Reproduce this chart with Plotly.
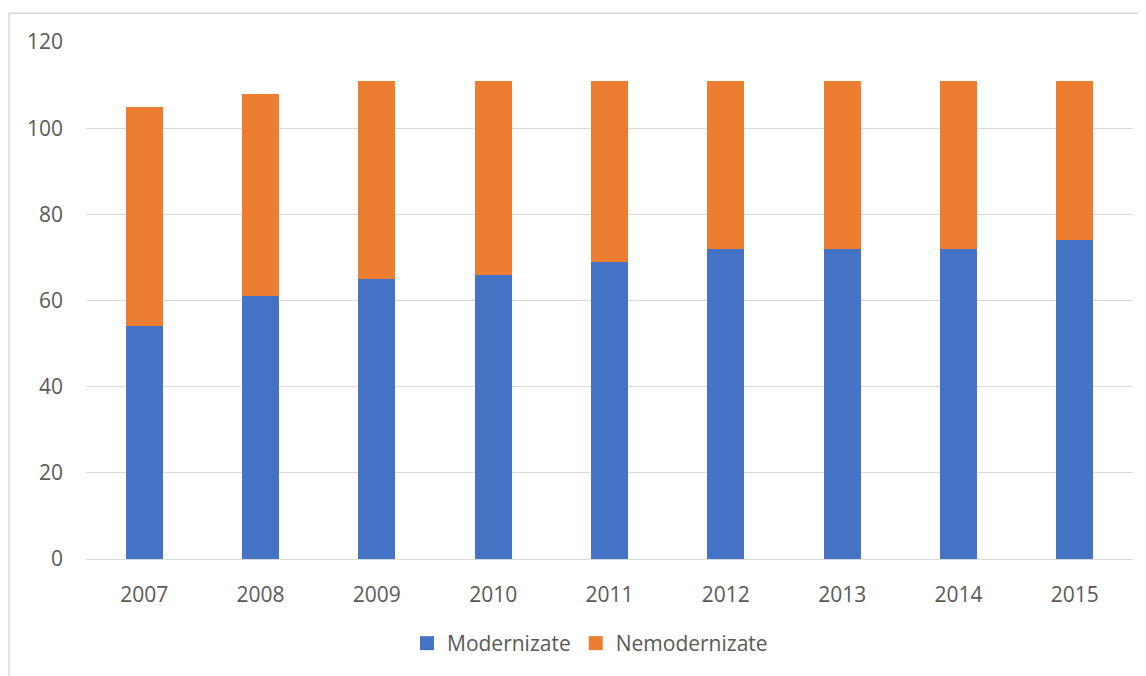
import plotly.graph_objects as go

years = ["2007", "2008", "2009", "2010", "2011", "2012", "2013", "2014", "2015"]
modernizate = [54, 61, 65, 66, 69, 72, 72, 72, 74]
nemodernizate = [51, 47, 46, 45, 42, 39, 39, 39, 37]
y_ticks = [0, 20, 40, 60, 80, 100, 120]
series_names = ["Modernizate", "Nemodernizate"]

BLUE = "#4472C4"
ORANGE = "#ED7D31"
GRID = "#d9d9d9"
TEXT = "#595959"
FONT = "Open Sans"
FS = 21

fig = go.Figure()
fig.add_trace(go.Bar(x=years, y=modernizate, name=series_names[0],
                     marker=dict(color=BLUE, line=dict(width=0)),
                     showlegend=False))
fig.add_trace(go.Bar(x=years, y=nemodernizate, name=series_names[1],
                     marker=dict(color=ORANGE, line=dict(width=0)),
                     showlegend=False))
# legend entries with larger square swatches (as in the reference)
for nm, col in zip(series_names, [BLUE, ORANGE]):
    fig.add_trace(go.Scatter(x=[None], y=[None], mode="markers", name=nm,
                             marker=dict(symbol="square", size=14, color=col)))

# page body has an 8px margin, so the figure starts at (8, 8)
OFF = 8
W, H = 1146 - OFF, 676 - OFF
L, R, T, B = 86 - OFF, 13, 42 - OFF, 114
pw = W - L - R
ph = H - T - B

fig.update_layout(
    width=W, height=H,
    barmode="stack",
    bargap=0.682,
    paper_bgcolor="white",
    plot_bgcolor="white",
    margin=dict(l=L, r=R, t=T, b=B, pad=0),
    font=dict(family=FONT, size=FS, color=TEXT),
    legend=dict(orientation="h", traceorder="normal",
                x=(590 - 86) / pw, xanchor="center",
                y=-(647 - 562) / ph, yanchor="middle",
                font=dict(family=FONT, size=FS, color=TEXT),
                itemwidth=30, bgcolor="rgba(0,0,0,0)"),
    xaxis=dict(showgrid=False, showline=True, linecolor=GRID, linewidth=1,
               ticks="", ticklabelstandoff=17,
               tickfont=dict(family=FONT, size=FS, color=TEXT)),
    yaxis=dict(range=[0, 120], tickvals=y_ticks, showgrid=True,
               gridcolor=GRID, gridwidth=1, zeroline=False, showline=False,
               ticks="", ticklabelstandoff=22,
               tickfont=dict(family=FONT, size=FS, color=TEXT)),
    shapes=[dict(type="rect", xref="paper", yref="paper",
                 x0=(9 - 86) / pw, x1=1.2,
                 y0=-0.5, y1=1 + (42 - 13) / ph,
                 line=dict(color=GRID, width=1.5), fillcolor="rgba(0,0,0,0)",
                 layer="below")],
)

fig.write_html("out.html")
